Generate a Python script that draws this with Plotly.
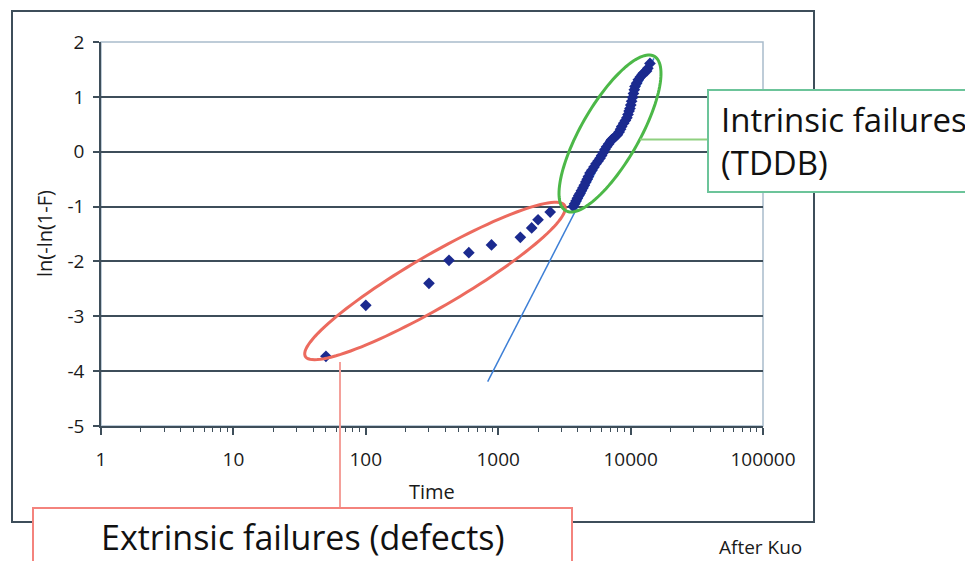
import numpy as np
import plotly.graph_objects as go

# ---------------- data ----------------
ext_time = [50, 100, 300, 425, 600, 890, 1470, 1790, 2000, 2470]
ext_val = [-3.73, -2.80, -2.40, -1.98, -1.84, -1.70, -1.56, -1.39, -1.24, -1.10]

int_time = [3690, 3780, 3870, 3960, 4060, 4150, 4250, 4360, 4470, 4590,
            4700, 4800, 4935, 5100, 5290, 5480, 5680, 5875, 6040, 6200,
            6400, 6590, 6820, 7060, 7200, 7450, 7700, 7950, 8200, 8400,
            8570, 8870, 9130, 9380, 9560, 9740, 9890, 10030, 10180, 10340,
            10510, 10660, 10790, 11100, 11430, 11850, 12200, 12470, 13200, 13500,
            14000]
int_val = [-1.00, -0.95, -0.90, -0.85, -0.80, -0.76, -0.71, -0.66, -0.61, -0.55,
           -0.50, -0.45, -0.39, -0.34, -0.28, -0.22, -0.17, -0.12, -0.07, -0.02,
           0.04, 0.09, 0.14, 0.19, 0.22, 0.25, 0.28, 0.31, 0.36, 0.41,
           0.46, 0.52, 0.57, 0.62, 0.68, 0.74, 0.79, 0.85, 0.92, 0.99,
           1.06, 1.13, 1.19, 1.25, 1.31, 1.36, 1.40, 1.43, 1.47, 1.52,
           1.61]

fit_time = [833, 15000]
fit_val = [-4.19, 1.70]

x_tick_vals = [1, 10, 100, 1000, 10000, 100000]
x_tick_text = ["1", "10", "100", "1000", "10000", "100000"]
x_minor_vals = [m * d for d in [1, 10, 100, 1000, 10000] for m in range(2, 10)]
y_tick_vals = [2, 1, 0, -1, -2, -3, -4, -5]
y_tick_text = ["2", "1", "0", "-1", "-2", "-3", "-4", "-5"]

# ---------------- geometry helpers (reference pixel -> paper) ----------------
OFF = 8  # page body margin: figure is drawn at (8, 8) in the window
W, H = 973 - OFF, 561 - OFF
L, R, T, B = 101, 763, 42, 426  # plot area in window pixels


def px(x):
    return (x - L) / (R - L)


def py(y):
    return (B - y) / (B - T)


def ellipse_path(cx, cy, a, b, ang_deg, n=120):
    t = np.linspace(0, 2 * np.pi, n)
    ang = np.radians(ang_deg)
    xs = cx + a * np.cos(t) * np.cos(ang) + b * np.sin(t) * np.sin(ang)
    ys = cy - a * np.cos(t) * np.sin(ang) + b * np.sin(t) * np.cos(ang)
    pts = [f"{px(x):.5f},{py(y):.5f}" for x, y in zip(xs, ys)]
    return "M " + " L ".join(pts) + " Z"


FONT = "Open Sans"
AX = "#3e4e5a"
NAVY = "#1b2a8f"
TXT = "#1a1a1a"

fig = go.Figure()

fig.add_trace(go.Scatter(x=fit_time, y=fit_val, mode="lines",
                         line=dict(color="#3d7fd6", width=1.5),
                         hoverinfo="skip", showlegend=False))
fig.add_trace(go.Scatter(x=ext_time, y=ext_val, mode="markers",
                         marker=dict(symbol="diamond", size=9, color=NAVY),
                         showlegend=False))
fig.add_trace(go.Scatter(x=int_time, y=int_val, mode="markers",
                         marker=dict(symbol="diamond", size=9, color=NAVY),
                         showlegend=False))

shapes = []
# outer chart frame
shapes.append(dict(type="rect", xref="paper", yref="paper",
                   x0=px(12), x1=px(814), y0=py(522), y1=py(11),
                   line=dict(color=AX, width=2), layer="below"))
# plot area border (light)
shapes.append(dict(type="rect", xref="paper", yref="paper",
                   x0=0, x1=1, y0=0, y1=1,
                   line=dict(color="#a9bccb", width=1.5), layer="below"))
# ellipses
shapes.append(dict(type="path", xref="paper", yref="paper",
                   path=ellipse_path(435, 281, 150, 26, 30.2),
                   line=dict(color="#ec6a5e", width=3)))
shapes.append(dict(type="path", xref="paper", yref="paper",
                   path=ellipse_path(610, 133.5, 89, 29, 60.1),
                   line=dict(color="#4cb848", width=3)))
# connectors
shapes.append(dict(type="line", xref="paper", yref="paper",
                   x0=px(340), x1=px(340), y0=py(362), y1=py(508),
                   line=dict(color="#f4a09a", width=2)))
shapes.append(dict(type="line", xref="paper", yref="paper",
                   x0=px(640), x1=px(708), y0=py(139.5), y1=py(139.5),
                   line=dict(color="#8fd080", width=2)))
# callout boxes
shapes.append(dict(type="rect", xref="paper", yref="paper",
                   x0=px(708), x1=px(990), y0=py(192), y1=py(90),
                   fillcolor="white", line=dict(color="#6cc49a", width=2)))
shapes.append(dict(type="rect", xref="paper", yref="paper",
                   x0=px(33), x1=px(572), y0=py(580), y1=py(508),
                   fillcolor="white", line=dict(color="#f4837d", width=2)))

annotations = [
    dict(text="Intrinsic failures<br>(TDDB)", xref="paper", yref="paper",
         x=px(719), y=py(141), xanchor="left", yanchor="middle", align="left",
         showarrow=False, font=dict(family=FONT, size=33, color="#111")),
    dict(text="Extrinsic failures (defects)", xref="paper", yref="paper",
         x=px(303), y=py(537), xanchor="center", yanchor="middle",
         showarrow=False, font=dict(family=FONT, size=34, color="#111")),
    dict(text="After Kuo", xref="paper", yref="paper",
         x=px(760), y=py(547), xanchor="center", yanchor="middle",
         showarrow=False, font=dict(family=FONT, size=19, color=TXT)),
    dict(text="Time", xref="paper", yref="paper",
         x=px(432), y=py(491), xanchor="center", yanchor="middle",
         showarrow=False, font=dict(family=FONT, size=20, color=TXT)),
    dict(text="ln(-ln(1-F)", xref="paper", yref="paper",
         x=px(44), y=py(234), xanchor="center", yanchor="middle", textangle=-90,
         showarrow=False, font=dict(family=FONT, size=20, color=TXT)),
]

fig.update_layout(
    width=W, height=H,
    margin=dict(l=L - OFF, r=(W + OFF) - R, t=T - OFF, b=(H + OFF) - B, autoexpand=False),
    paper_bgcolor="white", plot_bgcolor="white",
    font=dict(family=FONT, size=19, color=TXT),
    shapes=shapes, annotations=annotations, showlegend=False,
)

fig.update_xaxes(type="log", range=[0, 5],
                 tickmode="array", tickvals=x_tick_vals, ticktext=x_tick_text,
                 ticks="outside", ticklen=7, tickwidth=1.5, tickcolor=AX,
                 showline=True, linecolor=AX, linewidth=1.5,
                 showgrid=False, zeroline=False, ticklabelstandoff=8,
                 minor=dict(tickmode="array", tickvals=x_minor_vals, ticks="outside",
                            ticklen=4, tickwidth=1, tickcolor=AX, showgrid=False))
fig.update_yaxes(range=[-5, 2],
                 tickmode="array", tickvals=y_tick_vals, ticktext=y_tick_text,
                 ticks="outside", ticklen=6, tickwidth=1.5, tickcolor=AX,
                 showline=True, linecolor=AX, linewidth=1.5,
                 showgrid=True, gridcolor=AX, gridwidth=1.5, zeroline=False,
                 ticklabelstandoff=5)

fig.write_html("out.html")
